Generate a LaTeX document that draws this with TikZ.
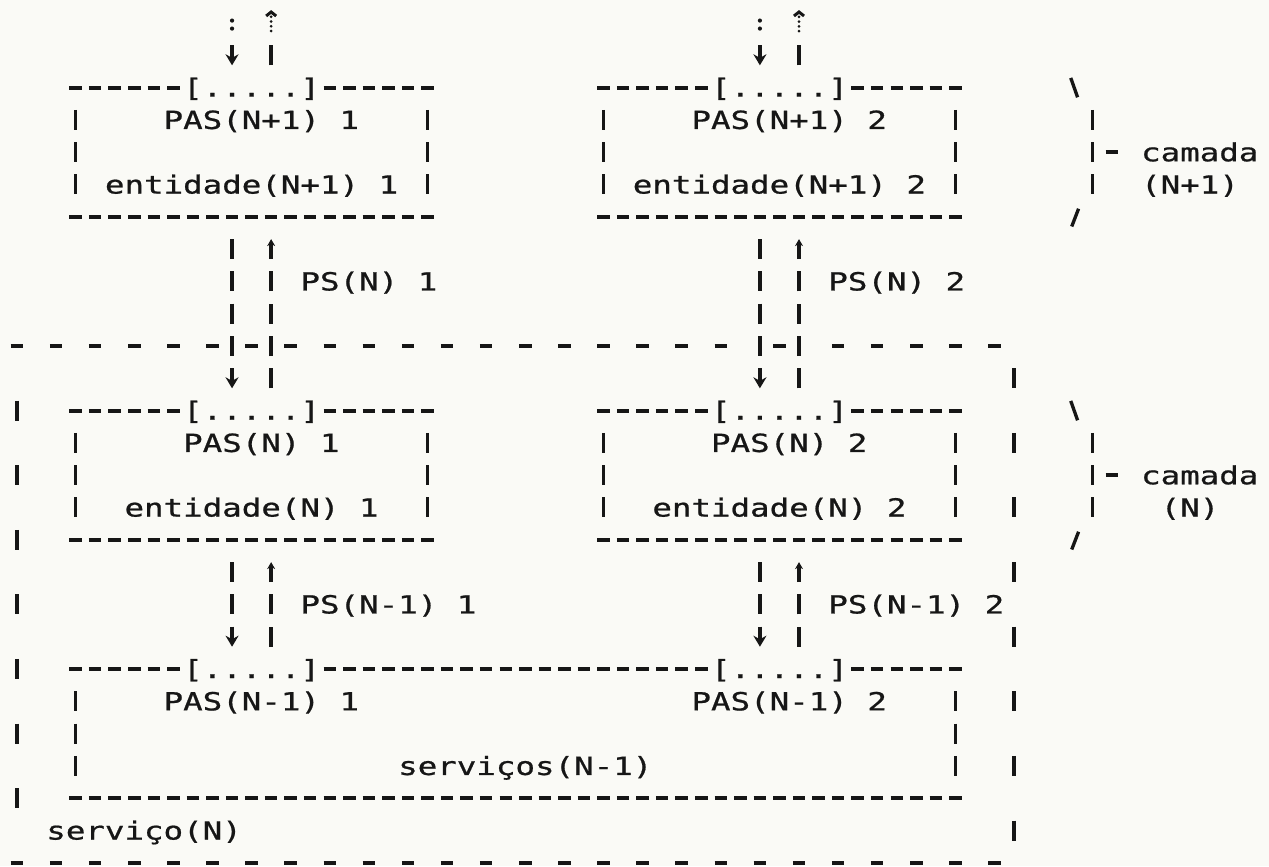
\documentclass[tikz,border=0pt]{standalone}
\usepackage{fontspec}
\newfontfamily\dotfont{DejaVu Sans Mono}[FakeStretch=1.301,FakeBold=0.8]
\usetikzlibrary{arrows.meta}
\definecolor{paper}{RGB}{250,250,246}
\definecolor{ink}{RGB}{22,22,22}
\tikzset{
	lbl/.style={font=\dotfont\fontsize{14.2pt}{17pt}\selectfont, text=ink, anchor=base west, inner sep=0pt, outer sep=0pt},
	hline/.style={draw=ink, line width=2.2pt, dash pattern=on 2.5mm off 1.41mm},
	hsep/.style={draw=ink, line width=2.2pt, dash pattern=on 2.5mm off 5.32mm},
	vline/.style={draw=ink, line width=1.9pt, dash pattern=on 4mm off 2.46mm},
	vsep/.style={draw=ink, line width=1.9pt, dash pattern=on 4mm off 8.92mm},
	gap/.style={shorten <=4.46mm, shorten >=4.46mm},
	down/.style={vline, gap, -{Stealth[length=2.2mm,width=2.6mm]}},
	up/.style={vline, gap, -{Stealth[length=1.4mm,width=1.6mm]}},
	dotup/.style={draw=ink, line width=1.7pt, line cap=round, dash pattern=on 0pt off 0.95mm, -{Straight Barb[length=0.8mm,width=2mm]}},
	slash/.style={draw=ink, line width=1.9pt},
}
\begin{document}
\begin{tikzpicture}[x=3.91mm, y=-6.46mm]
	\useasboundingbox (-0.8696,-0.7121) rectangle (64.041,26.099);
	\fill[paper] (-0.8696,-0.7121) rectangle (64.041,26.099);

	\foreach \nm/\l/\r/\t/\b in {e1/3/21/2/6, e2/30/48/2/6, n1/3/21/12/16, n2/30/48/12/16} {
		\draw[hline] (\l-0.32,\t) -- (\l+5.32,\t) (\l+12.68,\t) -- (\r+0.32,\t);
		\node[lbl] (sap-\nm) at (\l+5.5,\t+0.28) {[.....]};
		\draw[hline] (\l-0.32,\b) -- (\r+0.32,\b);
		\draw[vline] (\l,\t+0.69) -- (\l,\b-0.69) (\r,\t+0.69) -- (\r,\b-0.69);
	}
	\draw[hline] (2.68,20) -- (8.32,20) (15.68,20) -- (35.32,20) (42.68,20) -- (48.32,20);
	\node[lbl] (sap-s1) at (8.5,20.28) {[.....]};
	\node[lbl] (sap-s2) at (35.5,20.28) {[.....]};
	\draw[hline] (2.68,24) -- (48.32,24);
	\draw[vline] (3,20.69) -- (3,23.31) (48,20.69) -- (48,23.31);

	\node[lbl] (pas1) at (7.5,3.28) {PAS(N+1) 1};
	\node[lbl] (pas2) at (34.5,3.28) {PAS(N+1) 2};
	\node[lbl] (ent1) at (4.5,5.28) {entidade(N+1) 1};
	\node[lbl] (ent2) at (31.5,5.28) {entidade(N+1) 2};
	\node[lbl] (ps1) at (14.5,8.28) {PS(N) 1};
	\node[lbl] (ps2) at (41.5,8.28) {PS(N) 2};
	\node[lbl] (pasn1) at (8.5,13.28) {PAS(N) 1};
	\node[lbl] (pasn2) at (35.5,13.28) {PAS(N) 2};
	\node[lbl] (entn1) at (5.5,15.28) {entidade(N) 1};
	\node[lbl] (entn2) at (32.5,15.28) {entidade(N) 2};
	\node[lbl] (psm1) at (14.5,18.28) {PS(N-1) 1};
	\node[lbl] (psm2) at (41.5,18.28) {PS(N-1) 2};
	\node[lbl] (pasm1) at (7.5,21.28) {PAS(N-1) 1};
	\node[lbl] (pasm2) at (34.5,21.28) {PAS(N-1) 2};
	\node[lbl] (servm) at (19.5,23.28) {serviços(N-1)};
	\node[lbl] (servn) at (1.5,25.28) {serviço(N)};

	\foreach \k/\c in {1/11,2/38} {
		\coordinate (in\k) at (\c,-0.4);
		\coordinate (sup\k) at (\c,2);
		\coordinate (mid\k) at (\c,6);
		\coordinate (nt\k) at (\c,12);
		\coordinate (nb\k) at (\c,16);
		\coordinate (st\k) at (\c,20);
	}
	\foreach \k in {1,2} {
		\fill[ink] ([yshift=-2.1mm]in\k) circle (1.2pt) ([yshift=-3.7mm]in\k) circle (1.2pt);
		\draw[down, shorten <=7.04mm] (in\k) -- (sup\k);
		\draw[dotup] ([xshift=7.82mm,yshift=-4.2mm]in\k) -- ([xshift=7.82mm]in\k);
		\draw[vline, shorten <=4.46mm, shorten >=7.04mm] ([xshift=7.82mm]sup\k) -- ([xshift=7.82mm]in\k);
		\draw[down] (mid\k) -- (nt\k);
		\draw[up] ([xshift=7.82mm]nt\k) -- ([xshift=7.82mm]mid\k);
		\draw[down] (nb\k) -- (st\k);
		\draw[up] ([xshift=7.82mm]st\k) -- ([xshift=7.82mm]nb\k);
	}

	\draw[hsep] (-0.32,10) -- (36.32,10) (41.68,10) -- (50.32,10);
	\draw[hline] (38.68,10) -- (39.32,10);
	\draw[hsep] (-0.32,26) -- (50.32,26);
	\draw[vsep] (0,11.69) -- (0,24.31);
	\draw[vsep] (51,10.69) -- (51,25.31);

	\foreach \t/\lay/\ox in {2/(N+1)/57.5, 12/(N)/58.5} {
		\draw[slash] (53.9,\t-0.3) -- (54.25,\t+0.3);
		\draw[vline] (55,\t+0.69) -- (55,\t+3.31);
		\draw[hline] (55.68,\t+2) -- (56.32,\t+2);
		\draw[slash] (54.3,\t+3.75) -- (53.95,\t+4.3);
		\node[lbl] (cam\t) at (57.5,\t+2.28) {camada};
		\node[lbl] (lay\t) at (\ox,\t+3.28) {\lay};
	}
\end{tikzpicture}
\end{document}
